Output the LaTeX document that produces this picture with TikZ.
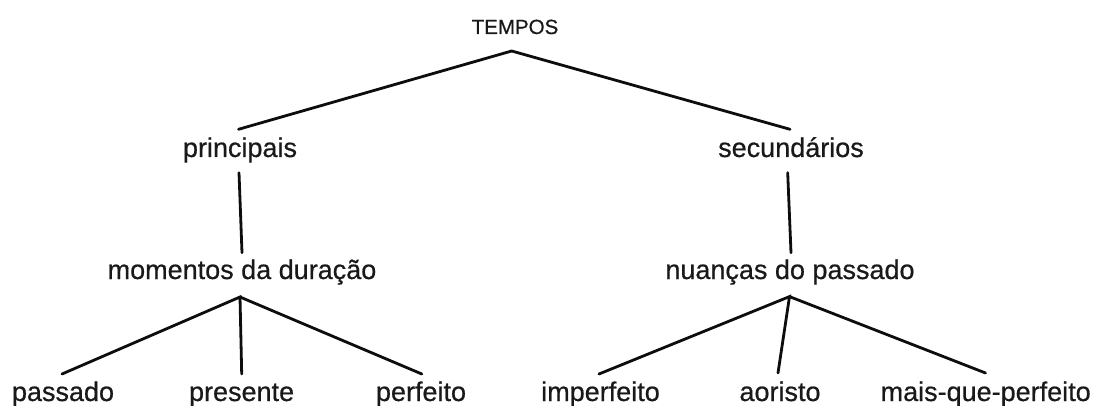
\documentclass[tikz,border=0pt]{standalone}
\usepackage{fontspec}
\setmainfont{Liberation Sans}[FakeBold=0.6]
\begin{document}
\begin{tikzpicture}[x=1pt,y=-1pt,
  lbl/.style={inner sep=0pt, anchor=base, text=black!90, font=\fontsize{27}{30}\selectfont},
  toplbl/.style={inner sep=0pt, anchor=base, text=black!90, font=\fontsize{20.5}{24}\selectfont},
  edge/.style={line width=2.8pt, line cap=round, line join=miter, black!95}]
\useasboundingbox (0,0) rectangle (1095,406);
% nodes
\node[toplbl] (tempos) at (515,34) {TEMPOS};
\node[lbl] (princ) at (240,157) {principais};
\node[lbl] (secund) at (791,157) {secundários};
\node[lbl] (moment) at (242,279) {momentos da duração};
\node[lbl] (nuanc) at (790,279) {nuanças do passado};
\node[lbl] (passado) at (63,401) {passado};
\node[lbl] (presente) at (241.6,401) {presente};
\node[lbl] (perfeito) at (421,401) {perfeito};
\node[lbl] (imperf) at (600.5,401) {imperfeito};
\node[lbl] (aoristo) at (780,401) {aoristo};
\node[lbl] (maisque) at (985.7,401) {mais-que-perfeito};
% connectors
\draw[edge] ([shift={(-1.5,-27.7)}]princ.base) -- ([shift={(-3.3,17)}]tempos.base) -- ([shift={(-1,-27.7)}]secund.base);
\draw[edge] ([shift={(-1,15.7)}]princ.base) -- ([shift={(0,-26.3)}]moment.base);
\draw[edge] ([shift={(-3.3,15.7)}]secund.base) -- ([shift={(1,-26.3)}]nuanc.base);
\draw[edge] ([shift={(-1,-27)}]passado.base) -- ([shift={(-2,18)}]moment.base) -- ([shift={(0.1,-27)}]presente.base);
\draw[edge] ([shift={(-2,18)}]moment.base) -- ([shift={(0.8,-27)}]perfeito.base);
\draw[edge] ([shift={(-1.5,-27)}]imperf.base) -- ([shift={(-0.5,17.6)}]nuanc.base) -- ([shift={(-2,-28)}]aoristo.base);
\draw[edge] ([shift={(-0.5,17.6)}]nuanc.base) -- ([shift={(-0.2,-28)}]maisque.base);
\end{tikzpicture}
\end{document}
